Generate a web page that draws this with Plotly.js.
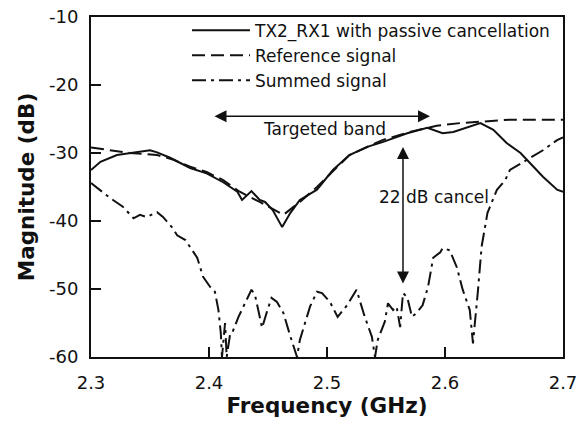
<!DOCTYPE html>
<html>
<head>
<meta charset="utf-8">
<script src="https://cdn.plot.ly/plotly-3.0.1.min.js"></script>
<style>html,body{margin:0;padding:0;background:#fff;}#chart{width:585px;height:425px;}</style>
</head>
<body>
<div id="chart"></div>
<script>
// TX2_RX1 with passive cancellation
var txFreq = [2.300,2.308,2.322,2.336,2.350,2.356,2.367,2.384,2.398,2.412,2.424,2.428,2.436,2.443,2.4475,2.454,2.462,2.469,2.477,2.4915,2.505,2.519,2.534,2.547,2.568,2.585,2.598,2.607,2.619,2.630,2.641,2.652,2.664,2.672,2.683,2.695,2.700];
var txMag  = [-32.5,-31.3,-30.3,-29.9,-29.6,-29.9,-30.7,-32.2,-33.0,-34.3,-35.7,-36.9,-35.6,-36.9,-37.2,-38.4,-40.9,-38.8,-36.9,-35.4,-32.5,-30.3,-29.1,-28.4,-27.1,-26.3,-27.1,-26.9,-26.2,-25.6,-26.6,-28.5,-30.0,-31.5,-33.5,-35.4,-35.7];

// Reference signal
var refFreq = [2.300,2.316,2.333,2.356,2.370,2.384,2.398,2.412,2.426,2.443,2.463,2.477,2.4915,2.519,2.547,2.570,2.593,2.613,2.627,2.655,2.700];
var refMag  = [-29.2,-29.6,-30.0,-30.3,-31.0,-32.0,-32.8,-34.0,-35.7,-37.2,-39.1,-37.2,-35.0,-30.3,-28.1,-26.9,-26.0,-25.6,-25.4,-25.1,-25.1];

// Summed signal
var sumFreq = [2.300,2.316,2.327,2.336,2.3415,2.347,2.356,2.361,2.369,2.373,2.380,2.384,2.390,2.395,2.401,2.405,2.408,2.410,2.411,2.4136,2.415,2.418,2.420,2.425,2.429,2.433,2.436,2.439,2.445,2.449,2.453,2.4576,2.463,2.469,2.4746,2.477,2.480,2.4856,2.4915,2.4958,2.5025,2.509,2.517,2.525,2.532,2.538,2.5407,2.543,2.549,2.5517,2.556,2.559,2.562,2.5644,2.568,2.572,2.576,2.581,2.5856,2.590,2.596,2.598,2.604,2.610,2.615,2.621,2.6237,2.6254,2.628,2.631,2.636,2.644,2.651,2.655,2.669,2.683,2.695,2.700];
var sumMag  = [-34.4,-36.6,-37.9,-39.6,-39.1,-39.4,-38.7,-39.4,-41.0,-42.1,-42.8,-43.8,-45.4,-48.2,-49.7,-50.4,-53.1,-56.5,-60.0,-55.0,-60.0,-56.5,-56.3,-54.1,-52.6,-51.2,-50.1,-50.9,-55.7,-53.4,-51.3,-51.9,-53.5,-57.0,-60.0,-57.5,-55.7,-52.6,-50.4,-50.6,-51.9,-54.1,-52.4,-50.1,-54.1,-57.0,-60.0,-57.5,-54.8,-52.1,-53.1,-52.6,-55.6,-50.6,-51.2,-54.1,-53.5,-52.4,-49.7,-45.4,-44.6,-44.0,-44.3,-46.8,-50.1,-53.1,-58.0,-55.0,-50.1,-43.8,-38.8,-35.4,-34.0,-32.5,-31.0,-29.6,-28.1,-27.7];

var seriesNames = ['TX2_RX1 with passive cancellation','Reference signal','Summed signal'];
var xTicks = [2.3,2.4,2.5,2.6,2.7];
var xTickText = ['2.3','2.4','2.5','2.6','2.7'];
var yTicks = [-60,-50,-40,-30,-20,-10];
var yTickText = ['-60','-50','-40','-30','-20','-10'];

// Annotation values
var bandStart = 2.4034, bandEnd = 2.5873, bandLevel = -24.6;
var cancelFreq = 2.5644, cancelTop = -29.1, cancelBottom = -49.4;

var FONT = '"DejaVu Sans", sans-serif';
var INK = '#111';

var traces = [
  {x: txFreq, y: txMag, name: seriesNames[0], mode: 'lines', legendgroup:'a',
   line: {color: INK, width: 2, dash: 'solid'}},
  {x: refFreq, y: refMag, name: seriesNames[1], mode: 'lines', legendgroup:'b',
   line: {color: INK, width: 2, dash: '13px,6px'}},
  {x: sumFreq, y: sumMag, name: seriesNames[2], mode: 'lines', legendgroup:'c',
   line: {color: INK, width: 2, dash: '14px,5px,3px,5px'}}
];

var layout = {
  width: 585, height: 425,
  margin: {l: 91, r: 22, t: 17, b: 68},
  paper_bgcolor: '#fff', plot_bgcolor: '#fff',
  font: {family: FONT, color: INK, size: 17},
  showlegend: true,
  legend: {x: 0.2034, y: 1.013, xanchor: 'left', yanchor: 'top', bgcolor: 'rgba(0,0,0,0)',
           font: {family: FONT, size: 17, color: INK}, itemwidth: 58, tracegroupgap: 0,
           traceorder: 'normal'},
  xaxis: {range: [2.3, 2.7], tickvals: xTicks, ticktext: xTickText,
          ticks: 'inside', ticklen: 10, tickwidth: 2, tickcolor: INK,
          showline: true, linewidth: 2, linecolor: INK, mirror: true,
          showgrid: false, zeroline: false, ticklabelstandoff: 8,
          tickfont: {family: FONT, size: 18, color: INK},
          title: {text: 'Frequency (GHz)', font: {family: FONT, size: 21.5, color: INK, weight: 'bold'}, standoff: 4}},
  yaxis: {range: [-60, -10], tickvals: yTicks, ticktext: yTickText,
          ticks: 'inside', ticklen: 10, tickwidth: 2, tickcolor: INK,
          showline: true, linewidth: 2, linecolor: INK, mirror: true,
          showgrid: false, zeroline: false, ticklabelstandoff: 7,
          tickfont: {family: FONT, size: 18, color: INK},
          title: {text: 'Magnitude (dB)', font: {family: FONT, size: 21.5, color: INK, weight: 'bold'}, standoff: 8}},
  annotations: [
    {x: bandEnd, y: bandLevel, ax: bandStart, ay: bandLevel, xref: 'x', yref: 'y', axref: 'x', ayref: 'y',
     text: '', showarrow: true, arrowhead: 2, startarrowhead: 2, arrowside: 'end+start',
     arrowsize: 1.6, startarrowsize: 1.6, arrowwidth: 1.5, arrowcolor: INK},
    {x: cancelFreq, y: cancelTop, ax: cancelFreq, ay: cancelBottom, xref: 'x', yref: 'y', axref: 'x', ayref: 'y',
     text: '', showarrow: true, arrowhead: 2, startarrowhead: 2, arrowside: 'end+start',
     arrowsize: 1.6, startarrowsize: 1.6, arrowwidth: 1.5, arrowcolor: INK},
    {x: 2.4975, y: -26.5, xref: 'x', yref: 'y', text: 'Targeted band', showarrow: false,
     font: {family: FONT, size: 17, color: INK}},
    {x: 2.5907, y: -36.5, xref: 'x', yref: 'y', text: '22 dB cancel', showarrow: false,
     font: {family: FONT, size: 17, color: INK}}
  ]
};

Plotly.newPlot('chart', traces, layout, {displayModeBar: false, staticPlot: true});
</script>
</body>
</html>
